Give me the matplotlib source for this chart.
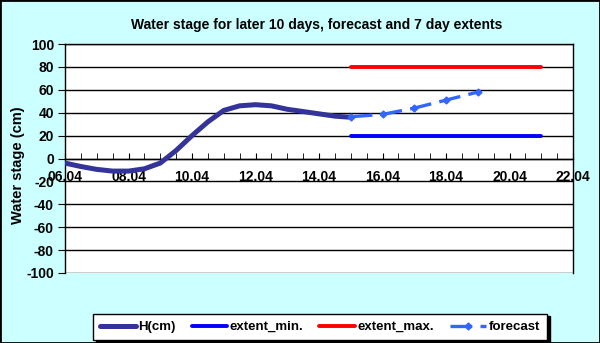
import matplotlib
matplotlib.use("Agg")
import matplotlib.pyplot as plt
from matplotlib.patches import Rectangle

# day of April, every 12 hours
h_days = [6.0, 6.5, 7.0, 7.5, 8.0, 8.5, 9.0, 9.5, 10.0, 10.5, 11.0, 11.5,
          12.0, 12.5, 13.0, 13.5, 14.0, 14.5, 15.0]
h_cm = [-4, -7, -9.5, -11, -11, -9, -4, 7, 20, 32, 42, 46,
        47, 46, 43, 41, 39, 37, 36]

extent_days = [15, 21]
extent_min = [20, 20]
extent_max = [80, 80]

forecast_days = [15, 16, 17, 18, 19]
forecast_cm = [36.5, 38.5, 44, 51, 58]

xtick_days = [6, 8, 10, 12, 14, 16, 18, 20, 22]
xtick_labels = ["06.04", "08.04", "10.04", "12.04", "14.04", "16.04",
                "18.04", "20.04", "22.04"]
yticks = list(range(-100, 101, 20))

plt.rcParams['font.family'] = ['Liberation Sans', 'DejaVu Sans']
plt.rcParams['font.weight'] = 'bold'
plt.rcParams['axes.unicode_minus'] = False

bg = '#ccffff'
fig = plt.figure(figsize=(6, 3.43), dpi=100, facecolor=bg)
ax = fig.add_axes([65/600, 70/343, 508/600, 229/343])
ax.set_facecolor('white')

for y in yticks:
    ax.axhline(y, color='black', lw=1, zorder=1)

ax.plot(h_days, h_cm, color='#333399', lw=3.6, solid_capstyle='round',
        label='H(cm)', zorder=3)
ax.plot(extent_days, extent_min, color='#0000ff', lw=2.8, solid_capstyle='round',
        label='extent_min.', zorder=3)
ax.plot(extent_days, extent_max, color='#ff0000', lw=2.8, solid_capstyle='round',
        label='extent_max.', zorder=3)
ax.plot(forecast_days, forecast_cm, color='#3366ff', lw=2.4, ls=(0, (6.5, 2.5)),
        marker='D', ms=3.5, label='forecast', zorder=4)

ax.set_xlim(6, 22)
ax.set_ylim(-100, 100)
ax.spines['bottom'].set_position(('data', 0))
for s in ax.spines.values():
    s.set_color('black')
    s.set_linewidth(1)

ax.set_xticks(xtick_days)
ax.set_xticklabels(xtick_labels)
ax.set_xticks([d / 2 for d in range(12, 45)], minor=True)
ax.tick_params(axis='x', which='both', direction='in', length=4, pad=8,
               labelsize=10)
ax.set_yticks(yticks)
ax.tick_params(axis='y', direction='out', length=5, pad=3, labelsize=10)

ax.set_ylabel('Water stage (cm)', fontsize=10.5, fontweight='bold')
ax.yaxis.set_label_coords(-0.079, 0.47)
fig.text(317/600, 1 - 25/343, 'Water stage for later 10 days, forecast and 7 day extents',
         ha='center', va='center', fontsize=10, fontweight='bold')

leg = fig.legend(loc='center', bbox_to_anchor=(320/600, 1 - 327/343), ncol=4,
                 frameon=True, fancybox=False, edgecolor='black',
                 fontsize=9.5, handlelength=2.7, handletextpad=0.2,
                 columnspacing=1.2, borderpad=0.55,
                 shadow={'color': 'black', 'alpha': 1})
leg.get_frame().set_linewidth(1)

fig.patches.append(Rectangle((0, 0), 1, 1, transform=fig.transFigure,
                             fill=False, edgecolor='black', lw=2))

fig.savefig('out.png', dpi=100, facecolor=bg)
